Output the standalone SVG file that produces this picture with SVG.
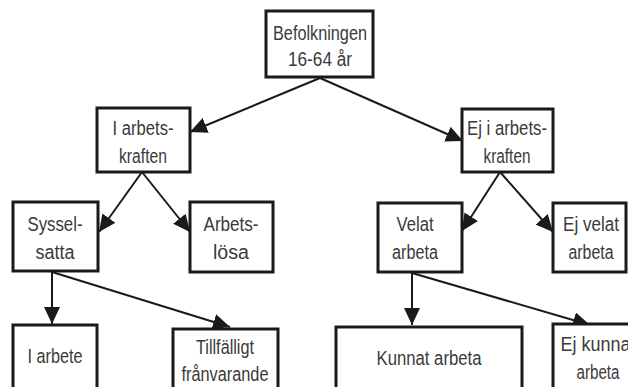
<svg xmlns="http://www.w3.org/2000/svg" width="628" height="387" viewBox="0 0 628 387">
<defs>
<marker id="ah" markerUnits="userSpaceOnUse" markerWidth="18" markerHeight="16" refX="17" refY="8" orient="auto">
<path d="M0,0 L17,8 L0,16 Z" fill="#1a1a1a"/>
</marker>
<style>
.box{fill:#fff;stroke:#1a1a1a;stroke-width:3}
.t{font-family:"Liberation Sans",Arial,sans-serif;font-size:20px;fill:#3a3a3a;text-anchor:middle}
.c{stroke:#1a1a1a;stroke-width:2;fill:none;marker-end:url(#ah)}
</style>
</defs>
<rect width="628" height="387" fill="#fff"/>
<g id="connectors">
<line class="c" x1="320" y1="78" x2="190" y2="132"/>
<line class="c" x1="320" y1="78" x2="463" y2="141"/>
<line class="c" x1="142" y1="172" x2="99" y2="232"/>
<line class="c" x1="142" y1="172" x2="190" y2="232"/>
<line class="c" x1="500" y1="172" x2="462" y2="231"/>
<line class="c" x1="500" y1="172" x2="553" y2="232"/>
<line class="c" x1="52" y1="272" x2="52" y2="324"/>
<line class="c" x1="52" y1="272" x2="230" y2="327"/>
<line class="c" x1="412" y1="273" x2="412" y2="325"/>
<line class="c" x1="412" y1="273" x2="590" y2="325"/>
</g>
<g id="befolkningen">
<rect class="box" x="266" y="11" width="107" height="66"/>
<text class="t" x="320" y="40" textLength="94" lengthAdjust="spacingAndGlyphs">Befolkningen</text>
<text class="t" x="320" y="66" textLength="64" lengthAdjust="spacingAndGlyphs">16-64 år</text>
</g>
<g id="i-arbetskraften">
<rect class="box" x="97" y="108" width="93" height="64"/>
<text class="t" x="143" y="135" textLength="61" lengthAdjust="spacingAndGlyphs">I arbets-</text>
<text class="t" x="143" y="163" textLength="48" lengthAdjust="spacingAndGlyphs">kraften</text>
</g>
<g id="ej-i-arbetskraften">
<rect class="box" x="462" y="109" width="91" height="63"/>
<text class="t" x="507" y="135" textLength="80" lengthAdjust="spacingAndGlyphs">Ej i arbets-</text>
<text class="t" x="507" y="163" textLength="47" lengthAdjust="spacingAndGlyphs">kraften</text>
</g>
<g id="sysselsatta">
<rect class="box" x="13" y="202" width="85" height="69"/>
<text class="t" x="55" y="231" textLength="55" lengthAdjust="spacingAndGlyphs">Syssel-</text>
<text class="t" x="55" y="259" textLength="39" lengthAdjust="spacingAndGlyphs">satta</text>
</g>
<g id="arbetslosa">
<rect class="box" x="190" y="202" width="83" height="70"/>
<text class="t" x="231" y="231" textLength="55" lengthAdjust="spacingAndGlyphs">Arbets-</text>
<text class="t" x="231" y="259" textLength="36" lengthAdjust="spacingAndGlyphs">lösa</text>
</g>
<g id="velat-arbeta">
<rect class="box" x="378" y="203" width="84" height="69"/>
<text class="t" x="415" y="231" textLength="37" lengthAdjust="spacingAndGlyphs">Velat</text>
<text class="t" x="415" y="259" textLength="46" lengthAdjust="spacingAndGlyphs">arbeta</text>
</g>
<g id="ej-velat-arbeta">
<rect class="box" x="553" y="203" width="73" height="69"/>
<text class="t" x="591" y="231" textLength="56" lengthAdjust="spacingAndGlyphs">Ej velat</text>
<text class="t" x="591" y="259" textLength="45" lengthAdjust="spacingAndGlyphs">arbeta</text>
</g>
<g id="i-arbete">
<rect class="box" x="13" y="325" width="84" height="80"/>
<text class="t" x="55" y="363" textLength="55" lengthAdjust="spacingAndGlyphs">I arbete</text>
</g>
<g id="tillfalligt-franvarande">
<rect class="box" x="173" y="329" width="105" height="80"/>
<text class="t" x="225" y="354" textLength="58" lengthAdjust="spacingAndGlyphs">Tillfälligt</text>
<text class="t" x="225" y="381" textLength="87" lengthAdjust="spacingAndGlyphs">frånvarande</text>
</g>
<g id="kunnat-arbeta">
<rect class="box" x="336" y="327" width="186" height="80"/>
<text class="t" x="429" y="365" textLength="105" lengthAdjust="spacingAndGlyphs">Kunnat arbeta</text>
</g>
<g id="ej-kunnat-arbeta">
<rect class="box" x="553" y="324" width="90" height="80"/>
<text class="t" x="598" y="351" textLength="75" lengthAdjust="spacingAndGlyphs">Ej kunnat</text>
<text class="t" x="598" y="379" textLength="43" lengthAdjust="spacingAndGlyphs">arbeta</text>
</g>
</svg>
